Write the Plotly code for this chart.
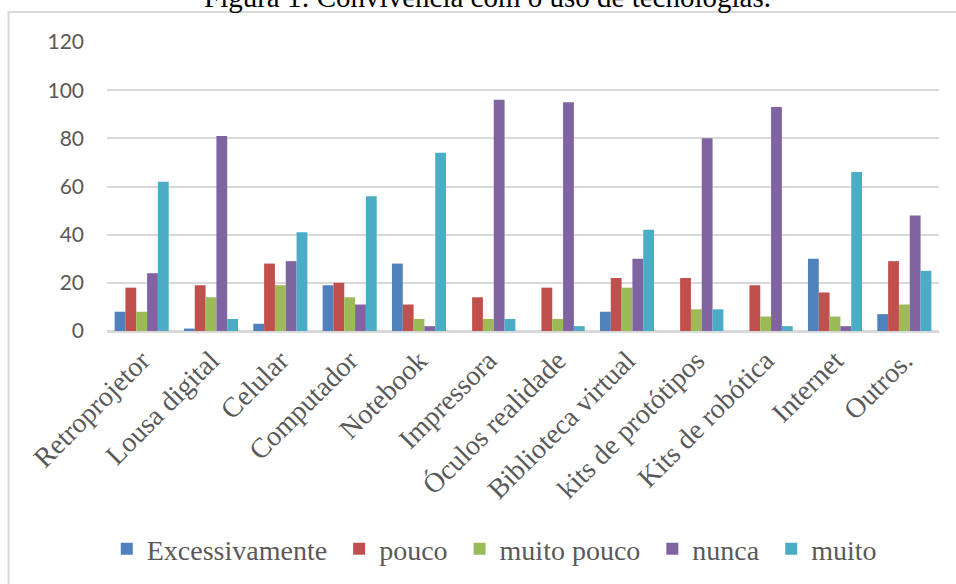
import plotly.graph_objects as go

categories = ["Retroprojetor", "Lousa digital", "Celular", "Computador", "Notebook",
              "Impressora", "Óculos realidade", "Biblioteca virtual", "kits de protótipos",
              "Kits de robótica", "Internet", "Outros."]
excessivamente = [8, 1, 3, 19, 28, 0, 0, 8, 0, 0, 30, 7]
pouco = [18, 19, 28, 20, 11, 14, 18, 22, 22, 19, 16, 29]
muito_pouco = [8, 14, 19, 14, 5, 5, 5, 18, 9, 6, 6, 11]
nunca = [24, 81, 29, 11, 2, 96, 95, 30, 80, 93, 2, 48]
muito = [62, 5, 41, 56, 74, 5, 2, 42, 9, 2, 66, 25]

series_names = ["Excessivamente", "pouco", "muito pouco", "nunca", "muito"]
series_values = [excessivamente, pouco, muito_pouco, nunca, muito]
series_colors = ["#4F81BD", "#C0504D", "#9BBB59", "#8064A2", "#4BACC6"]
y_ticks = [0, 20, 40, 60, 80, 100, 120]

title_text = "Figura 1: Convivência com o uso de tecnologias."

W, H = 956, 584
L, R, T, B = 106.5, 17, 42, 253
pw, ph = W - L - R, H - T - B

def px_x(x):
    return (x - L) / pw

def px_y(y):
    return (H - B - y) / ph

fig = go.Figure()
for i, (name, vals, col) in enumerate(zip(series_names, series_values, series_colors)):
    legend_name = name + ("\u00a0" if i < len(series_names) - 1 else "")
    fig.add_trace(go.Bar(x=categories, y=vals, name=legend_name,
                         marker=dict(color=col, line=dict(width=0))))

serif = "Liberation Serif, Times New Roman, serif"
grey = "#595959"
grid = "#d9d9d9"

fig.update_layout(
    width=W, height=H,
    margin=dict(l=L, r=R, t=T, b=B, autoexpand=False),
    paper_bgcolor="white", plot_bgcolor="white",
    barmode="group", bargap=0.22, bargroupgap=0,
    showlegend=True,
    legend=dict(orientation="h", x=px_x(494), xanchor="center",
                y=px_y(549), yanchor="middle",
                font=dict(family=serif, size=28, color=grey),
                bgcolor="rgba(0,0,0,0)", itemclick=False),
    xaxis=dict(tickangle=-45, tickfont=dict(family=serif, size=28, color=grey),
               showgrid=False, showline=True, linecolor=grid, linewidth=2,
               ticks="", automargin=False),
    yaxis=dict(range=[0, 120], tickvals=y_ticks,
               tickfont=dict(family="Lato, Open Sans, sans-serif", size=21, color=grey),
               showgrid=True, gridcolor=grid, gridwidth=2,
               zeroline=True, zerolinecolor=grid, zerolinewidth=2,
               showline=False, ticks="", ticklabelstandoff=22, automargin=False),
    annotations=[dict(text=title_text, xref="paper", yref="paper",
                      x=px_x(487), y=px_y(-3), xanchor="center", yanchor="middle",
                      showarrow=False,
                      font=dict(family=serif, size=29, color="black"))],
    shapes=[
        dict(type="line", xref="paper", yref="paper",
             x0=px_x(8), x1=px_x(8), y0=px_y(12), y1=px_y(590),
             line=dict(color=grid, width=2)),
        dict(type="line", xref="paper", yref="paper",
             x0=px_x(7), x1=px_x(960), y0=px_y(12), y1=px_y(12),
             line=dict(color=grid, width=2)),
    ],
)

fig.write_html("out.html")
